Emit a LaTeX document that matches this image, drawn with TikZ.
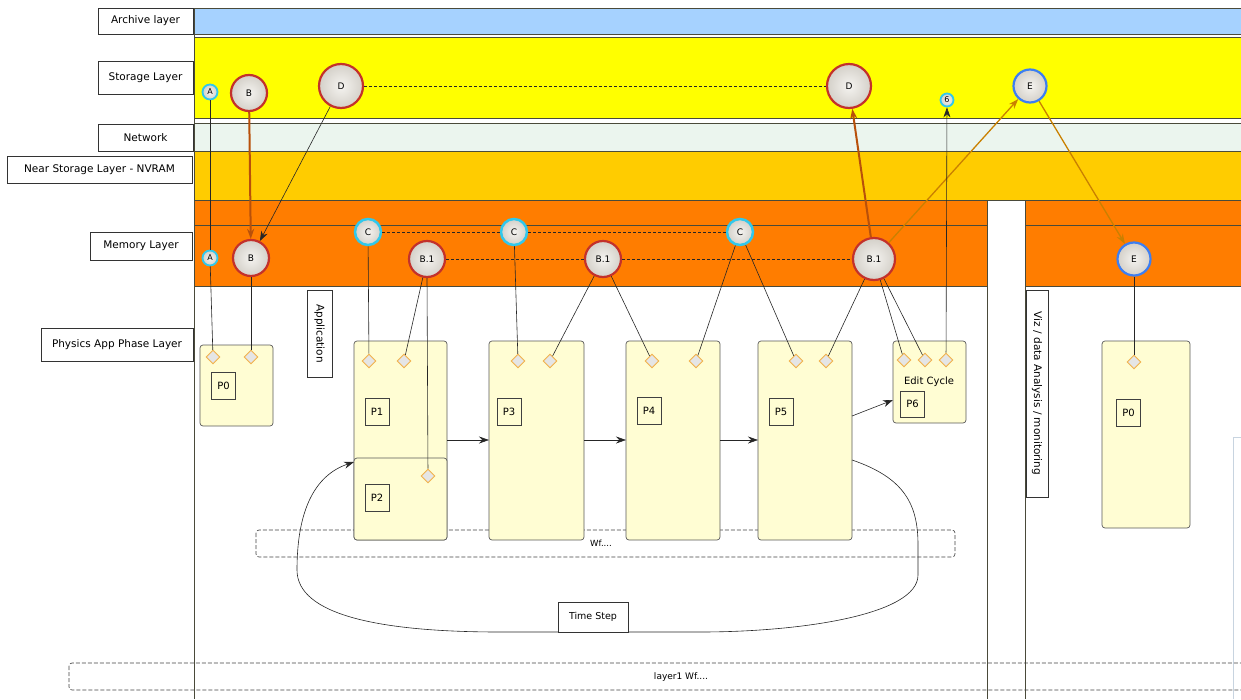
\documentclass[tikz,border=0pt]{standalone}
\usepackage{fontspec}
\setmainfont{DejaVu Sans}
\usetikzlibrary{shapes.geometric,arrows.meta}
\definecolor{archive}{HTML}{A6D2FF}
\definecolor{storage}{HTML}{FFFF00}
\definecolor{network}{HTML}{EBF5EE}
\definecolor{nvram}{HTML}{FFCC00}
\definecolor{memory}{HTML}{FF7D00}
\definecolor{procfill}{HTML}{FFFDD3}
\definecolor{ringred}{HTML}{C3312B}
\definecolor{ringcyan}{HTML}{30C8EC}
\definecolor{ringblue}{HTML}{3C7EF2}
\definecolor{ballfill}{HTML}{E6E2DA}
\definecolor{brownarrow}{HTML}{B8500A}
\definecolor{orangearrow}{HTML}{C98000}
\definecolor{diamondedge}{HTML}{F2B24A}
\definecolor{bandline}{HTML}{4A4A3A}
\definecolor{winframe}{HTML}{C8D4E0}
\begin{document}
\begin{tikzpicture}[x=1pt,y=-1pt,
  band/.style={draw=bandline,line width=0.8pt},
  lbl/.style={draw=black!80,fill=white,line width=0.6pt,font=\fontsize{10.5}{12}\selectfont,inner sep=2pt},
  ball/.style={circle,line width=2.2pt,inner sep=0pt,font=\fontsize{9}{10}\selectfont,
    shading=radial,inner color=ballfill!40!white,outer color=ballfill!92!black},
  redball/.style={ball,draw=ringred},
  cyanball/.style={ball,draw=ringcyan},
  blueball/.style={ball,draw=ringblue},
  proc/.style={draw=black!65,fill=procfill,rounded corners=3pt,line width=0.7pt},
  pbox/.style={draw=black!75,line width=0.6pt,inner sep=0pt,minimum width=24pt,minimum height=27pt,font=\fontsize{10}{11}\selectfont},
  port/.style={diamond,draw=diamondedge,fill=black!10,line width=0.9pt,inner sep=0pt,minimum size=14pt},
  conn/.style={black!85,line width=0.6pt},
  arr/.style={conn,-{Stealth[length=10pt,width=7pt]}},
  thickarr/.style={brownarrow,line width=2pt,-{Stealth[length=10pt,width=7pt]}},
  orarr/.style={orangearrow,line width=1.3pt,-{Stealth[length=10pt,width=7pt]}},
  dsh/.style={black!85,line width=0.6pt,dash pattern=on 3pt off 2pt},
  wfbox/.style={draw=black!75,line width=0.6pt,dash pattern=on 4pt off 2pt,rounded corners=3pt}
]
\useasboundingbox (0,0) rectangle (1241,699);
% ---------- layer bands ----------
\fill[archive] (194,8) rectangle (1241,34);
\draw[band] (1241,8) -- (194,8) -- (194,34) -- (1241,34);
\fill[storage] (194,37) rectangle (1241,118);
\draw[band] (1241,37) -- (194,37) -- (194,118) -- (1241,118);
\fill[network] (194,123) rectangle (1241,151);
\draw[band] (1241,123) -- (194,123) -- (194,151) -- (1241,151);
\fill[nvram] (194,152) rectangle (1241,200);
\draw[band] (194,200) -- (1241,200);
\fill[memory] (194,201) rectangle (987,286);
\fill[memory] (1025,201) rectangle (1241,286);
\draw[band] (194,225) -- (987,225);
\draw[band] (1025,225) -- (1241,225);
\draw[band] (194,286) -- (987,286);
\draw[band] (1025,286) -- (1241,286);
\draw[band] (194,8) -- (194,699);
\draw[band] (987,201) -- (987,699);
\draw[band] (1025,201) -- (1025,699);
\draw[winframe,line width=1pt] (1241,437) -- (1233,437) -- (1233,699);
% ---------- layer labels ----------
\node[lbl,minimum width=95pt,minimum height=26pt] (Larch) at (145.5,21) {Archive layer};
\node[lbl,minimum width=95pt,minimum height=33pt] (Lstor) at (145.5,77.5) {Storage Layer};
\node[lbl,minimum width=95pt,minimum height=27pt] (Lnet) at (145.5,137.5) {Network};
\node[lbl,minimum width=185pt,minimum height=27pt] (Lnv) at (99.5,169.5) {Near Storage Layer - NVRAM};
\node[lbl,minimum width=102pt,minimum height=28pt] (Lmem) at (141,246) {Memory Layer};
\node[lbl,minimum width=152pt,minimum height=33pt,inner sep=1pt] (Lphys) at (117,344.5) {Physics App Phase Layer};
\node[lbl,rotate=-90,minimum width=87pt,minimum height=25pt] (Lapp) at (319.5,333.5) {Application};
\node[lbl,rotate=-90,minimum width=207pt,minimum height=22pt,font=\fontsize{10.5}{12}\selectfont] (Lviz) at (1037,393.5) {Viz / data Analysis / monitoring};
% ---------- dashed workflow frames ----------
\draw[wfbox] (256,530) rectangle (955,557);
\node[font=\fontsize{8.5}{10}\selectfont] (wf) at (601,543) {Wf....};
\draw[wfbox] (69,663) rectangle (1245,690);
\node[font=\fontsize{9}{10}\selectfont] (lwf) at (681,677) {layer1 Wf....};
% ---------- phase boxes ----------
\draw[proc] (200,345) rectangle (273,426);
\draw[proc] (354,341) rectangle (447,540);
\draw[proc] (354,458) rectangle (447,540);
\draw[proc] (489,341) rectangle (584,540);
\draw[proc] (626,341) rectangle (720,540);
\draw[proc] (758,341) rectangle (852,540);
\draw[proc] (893,341) rectangle (966,423);
\draw[proc] (1102,341) rectangle (1190,528);
\coordinate (P1e) at (447,440);
\coordinate (P3w) at (489,440);
\coordinate (P3e) at (584,440);
\coordinate (P4w) at (626,440);
\coordinate (P4e) at (720,440);
\coordinate (P5w) at (758,440);
\coordinate (P5e) at (852,416);
\coordinate (P6w) at (893,400);
\coordinate (P5loop) at (852,460);
\coordinate (P2nw) at (354,462);
\node[pbox] (p0) at (223.5,385.5) {P0};
\node[pbox] (p1) at (377,411.5) {P1};
\node[pbox] (p2) at (377,497.5) {P2};
\node[pbox] (p3) at (509,411.5) {P3};
\node[pbox] (p4) at (649,411) {P4};
\node[pbox] (p5) at (781,411.5) {P5};
\node[pbox,minimum height=26pt] (p6) at (912.5,404) {P6};
\node[pbox] (p0r) at (1128.5,413) {P0};
\node[font=\fontsize{10}{11}\selectfont] (edit) at (929,382) {Edit Cycle};
% ---------- ports ----------
\node[port] (d01) at (213,357) {};
\node[port] (d02) at (251,357) {};
\node[port] (d11) at (369,361) {};
\node[port] (d12) at (404,361) {};
\node[port] (d21) at (428,476) {};
\node[port] (d31) at (518,361) {};
\node[port] (d32) at (550,361) {};
\node[port] (d41) at (652,361) {};
\node[port] (d42) at (696,361) {};
\node[port] (d51) at (796,361) {};
\node[port] (d52) at (826,361) {};
\node[port] (d61) at (904,360) {};
\node[port] (d62) at (925,360) {};
\node[port] (d63) at (946,360) {};
\node[port] (d0r) at (1134,362) {};
% ---------- data objects ----------
\node[cyanball,minimum size=15pt,line width=1.8pt,font=\fontsize{8}{9}\selectfont] (As) at (210,92) {A};
\node[redball,minimum size=36pt] (Bs) at (249,93) {B};
\node[redball,minimum size=44pt] (Ds) at (341,86) {D};
\node[redball,minimum size=44pt] (Dr) at (849,86) {D};
\node[cyanball,minimum size=13pt,line width=1.8pt,font=\fontsize{8}{9}\selectfont] (S6) at (947,100) {6};
\node[blueball,minimum size=33pt] (Es) at (1030,86) {E};
\node[cyanball,minimum size=15pt,line width=1.8pt,font=\fontsize{8}{9}\selectfont] (Am) at (210,258) {A};
\node[redball,minimum size=36pt] (Bm) at (251,258) {B};
\node[cyanball,minimum size=26pt,line width=2.5pt] (C1) at (368,232) {C};
\node[redball,minimum size=36pt] (B11) at (427,259) {B.1};
\node[cyanball,minimum size=26pt,line width=2.5pt] (C2) at (514,232) {C};
\node[redball,minimum size=36pt] (B12) at (603,259) {B.1};
\node[cyanball,minimum size=26pt,line width=2.5pt] (C3) at (740,232) {C};
\node[redball,minimum size=42pt] (B13) at (874,259) {B.1};
\node[blueball,minimum size=33pt] (Em) at (1134,259) {E};
% ---------- dashed identity links ----------
\draw[dsh] (Ds) -- (Dr);
\draw[dsh] (C1) -- (C2);
\draw[dsh] (C2) -- (C3);
\draw[dsh] (B11) -- (B12);
\draw[dsh] (B12) -- (B13);
% ---------- movements between layers ----------
\draw[thickarr] (Bs) -- (Bm);
\draw[arr] (Ds) -- (Bm);
\draw[thickarr] (B13) -- (Dr);
\draw[orarr] (B13) -- (Es);
\draw[orarr] (Es) -- (Em);
\draw[arr] (d63) -- (S6);
% ---------- object to port links ----------
\draw[conn] (As) -- (Am);
\draw[conn] (Am) -- (d01);
\draw[conn] (Bm) -- (d02);
\draw[conn] (C1) -- (d11);
\draw[conn] (B11) -- (d12);
\draw[conn] (B11.south) -- (d21);
\draw[conn] (C2) -- (d31);
\draw[conn] (B12) -- (d32);
\draw[conn] (B12) -- (d41);
\draw[conn] (C3) -- (d42);
\draw[conn] (C3) -- (d51);
\draw[conn] (B13) -- (d52);
\draw[conn] (B13) -- (d61);
\draw[conn] (B13) -- (d62);
\draw[conn] (Em) -- (d0r);
% ---------- phase flow ----------
\draw[arr] (P1e) -- (P3w);
\draw[arr] (P3e) -- (P4w);
\draw[arr] (P4e) -- (P5w);
\draw[arr] (P5e) -- (P6w);
\draw[arr] (P5loop) .. controls (905,478) and (918,505) .. (918,545) -- (918,575)
  .. controls (918,615) and (800,632) .. (700,632) -- (500,632)
  .. controls (380,632) and (297,615) .. (297,570)
  .. controls (297,510) and (315,475) .. (P2nw);
\node[lbl,minimum width=70pt,minimum height=30pt,font=\fontsize{9.5}{11}\selectfont] (ts) at (593,617) {Time Step};
\end{tikzpicture}
\end{document}
